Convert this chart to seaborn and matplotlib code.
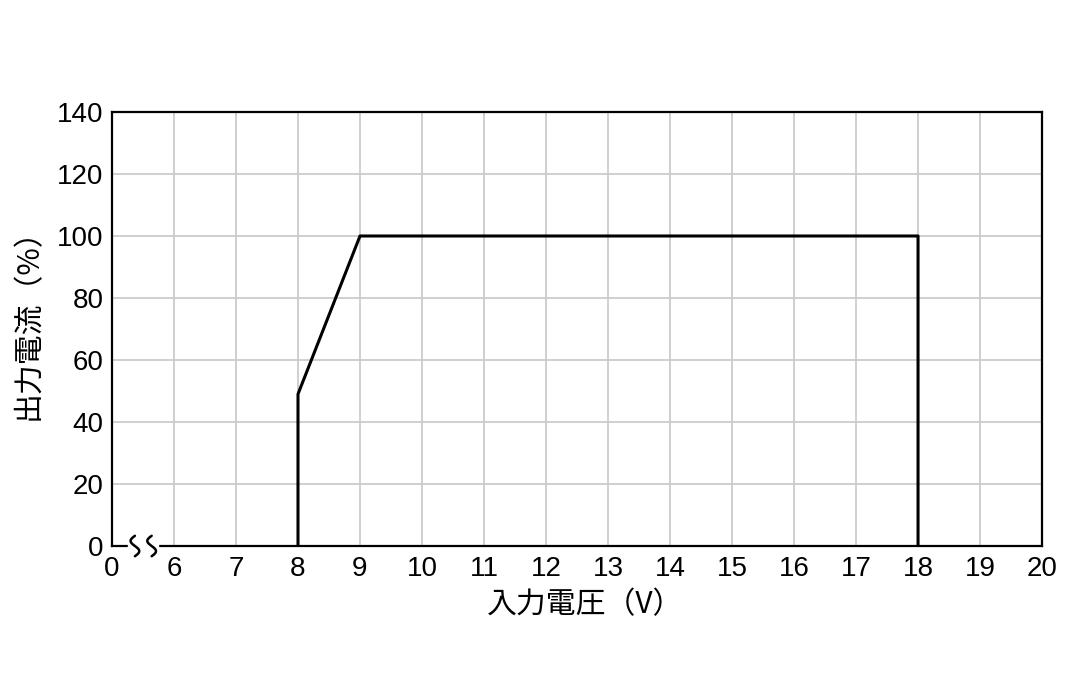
import numpy as np
import pandas as pd
import matplotlib
matplotlib.use('Agg')
import matplotlib.pyplot as plt
import seaborn as sns

# axis has a break between 0 and 6, so ticks are placed by index
x_ticks = [0, 6, 7, 8, 9, 10, 11, 12, 13, 14, 15, 16, 17, 18, 19, 20]
y_ticks = [0, 20, 40, 60, 80, 100, 120, 140]

volt = [8, 8, 9, 18, 18]
current = [0, 49, 100, 100, 0]

sns.set_style('white')
plt.rcParams['font.family'] = ['Liberation Sans', 'Noto Sans CJK JP']
plt.rcParams['text.color'] = 'black'
plt.rcParams['axes.labelcolor'] = 'black'

df = pd.DataFrame({'pos': [x_ticks.index(v) for v in volt], 'current': current})

fig = plt.figure(figsize=(10.84, 6.75), dpi=100)
ax = fig.add_axes([0.1033, 0.1911, 0.8580, 0.6430])

sns.lineplot(data=df, x='pos', y='current', sort=False, estimator=None,
             color='black', linewidth=2.2, ax=ax, zorder=3)

ax.set_xlim(0, len(x_ticks) - 1)
ax.set_ylim(0, 140)
ax.set_xticks(range(len(x_ticks)))
ax.set_xticklabels([str(t) for t in x_ticks])
ax.set_yticks(y_ticks)
ax.set_yticklabels([str(t) for t in y_ticks])
ax.tick_params(length=0, labelsize=20, colors='black')
ax.tick_params(axis='x', pad=7)
ax.tick_params(axis='y', pad=6)

# gridlines (not at 0 position)
for i in range(1, len(x_ticks) - 1):
    ax.axvline(i, color='#cccccc', linewidth=1.3, zorder=1)
for y in y_ticks[1:-1]:
    ax.axhline(y, color='#cccccc', linewidth=1.3, zorder=1)

for s in ax.spines.values():
    s.set_color('black')
    s.set_linewidth(1.6)
    s.set_zorder(4)

jp = ['Noto Sans CJK JP', 'DejaVu Sans']
ax.set_xlabel('入力電圧（V）', fontsize=21.5, family=jp, color='black')
ax.set_ylabel('出力電流（%）', fontsize=21.5, family=jp, color='black')
ax.xaxis.set_label_coords(0.509, -0.134)
ax.yaxis.set_label_coords(-0.090, 0.528)
ax.xaxis.label.set_va('center')
ax.yaxis.label.set_va('center')

# axis break marks
ax.add_patch(plt.Rectangle((0.26, -1.5), 0.48, 3, color='white', clip_on=False, zorder=5))
t = np.linspace(-1, 1, 40)
for cx in [0.37, 0.64]:
    ax.plot(cx + 0.07 * np.sin(t * np.pi), -t * 3.3, color='black',
            linewidth=1.8, clip_on=False, zorder=6)

fig.savefig('out.png', dpi=100)
